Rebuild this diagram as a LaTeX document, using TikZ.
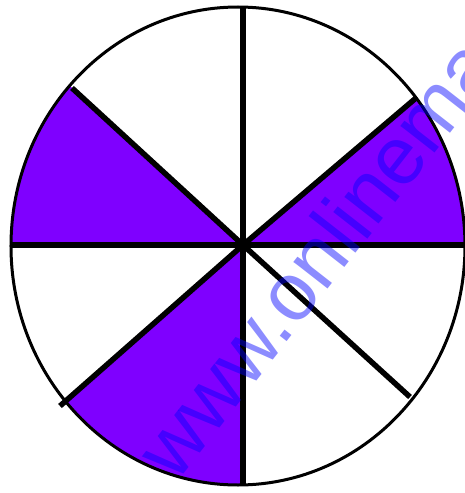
\documentclass[tikz,border=0pt]{standalone}
\usepackage{fontspec}
\newfontfamily\wmfont{Liberation Sans}
\definecolor{sektor}{RGB}{127,0,255}
\tikzset{
  obrys/.style={line width=3pt},
  paprsek/.style={line width=5.5pt},
  vypln/.style={fill=sektor},
  vodoznak/.style={text=blue, text opacity=0.45, font=\wmfont\fontsize{82pt}{94pt}\selectfont, inner sep=0pt}
}

\begin{document}
\begin{tikzpicture}[x=1pt,y=1pt]
	            % Hranice obrázku
	            \useasboundingbox (-243,-248) rectangle (222,245);
	            \clip (-243,-248) rectangle (222,245);

	            % Střed a konce paprsků
	            \coordinate (O) at (0,0);
	            \coordinate (S) at (-5,-1);
	            \coordinate (hore) at (0,238);
	            \coordinate (dole) at (0,-241);
	            \coordinate (vlevo) at (-232,0);
	            \coordinate (vpravo) at (224,0);
	            \coordinate (hl) at (-171,157);
	            \coordinate (hp) at (173,147);
	            \coordinate (dl) at (-183,-161);
	            \coordinate (dp) at (167,-152);

	            % Vybarvené výseče
	            \begin{scope}
	            	\clip (S) ellipse (227 and 239);
	            	\fill[vypln] (O) -- (180:400) -- (137.4:400) -- cycle;
	            	\fill[vypln] (O) -- (0:400) -- (40.35:400) -- cycle;
	            	\fill[vypln] (O) -- (221.3:400) -- (270:400) -- cycle;
	            \end{scope}

	            % Kružnice
	            \draw[obrys] (S) ellipse (227 and 239);

	            % Paprsky
	            \draw[paprsek] (hore) -- (dole);
	            \draw[paprsek] (vlevo) -- (vpravo);
	            \draw[paprsek] (O) -- (hl);
	            \draw[paprsek] (O) -- (hp);
	            \draw[paprsek] (O) -- (dl);
	            \draw[paprsek] (O) -- (dp);

	            % Vodoznak
	            \node[vodoznak, rotate=52, anchor=base west] (wm) at (-67,-239) {www.onlinema};
	        \end{tikzpicture}
\end{document}
